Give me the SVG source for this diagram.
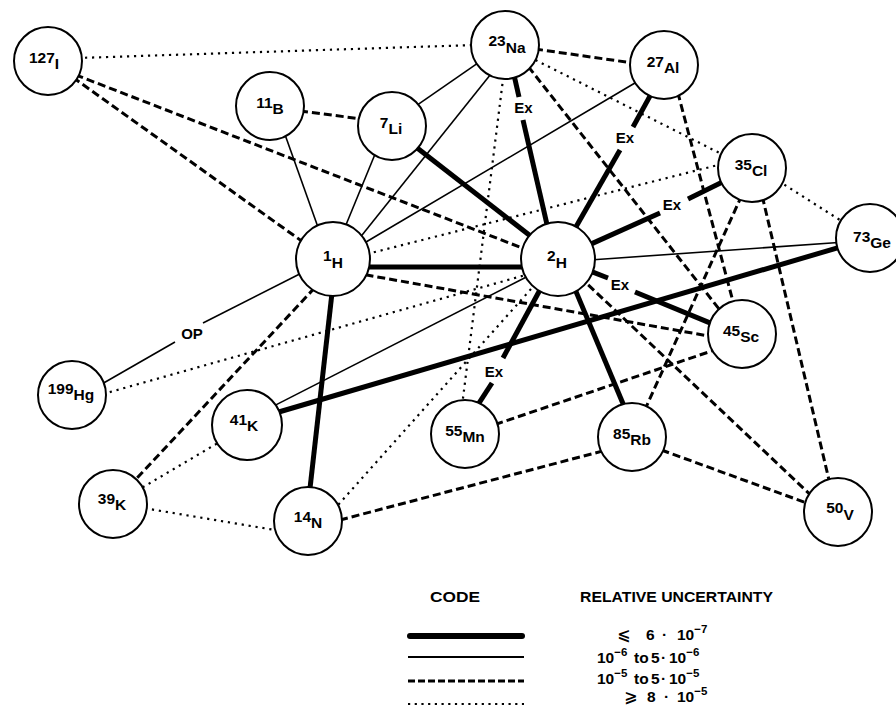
<svg xmlns="http://www.w3.org/2000/svg" width="896" height="708" viewBox="0 0 896 708">
<style>
.bg{fill:#fff}
.n circle{fill:#fff;stroke:#000;stroke-width:2}
.lbl{font-family:'Liberation Sans',Arial,sans-serif;font-weight:bold;font-size:15.5px;text-anchor:middle;fill:#000}
.ex{font-family:'Liberation Sans',Arial,sans-serif;font-weight:bold;font-size:15px;text-anchor:middle;fill:#000}
.e{stroke:#000;fill:none;stroke-linecap:butt}
.thick{stroke-width:5}
.thin{stroke-width:1.6}
.dash{stroke-width:3;stroke-dasharray:8 4}
.dot{stroke-width:2.2;stroke-dasharray:2.2 4.8}
.hd{font-family:'Liberation Sans',Arial,sans-serif;font-weight:bold;font-size:15.5px;fill:#000}
.val{font-family:'Liberation Sans',Arial,sans-serif;font-weight:bold;font-size:15.5px;fill:#000}
.rel{font-family:'DejaVu Sans',sans-serif;font-size:16px}
.sup{font-size:11.5px}
</style>
<rect class="bg" x="0" y="0" width="896" height="708"/>
<g id="connectors">
<!-- dotted -->
<line class="e dot" x1="78" y1="58" x2="475" y2="45"/>
<line class="e dot" x1="535.5" y1="60" x2="721.5" y2="154"/>
<line class="e dot" x1="503.3" y1="77" x2="462.4" y2="403"/>
<line class="e dot" x1="778.5" y1="181" x2="844" y2="222.6"/>
<line class="e dot" x1="531" y1="289" x2="338.6" y2="504.4"/>
<line class="e dot" x1="103" y1="394" x2="525.5" y2="275"/>
<line class="e dot" x1="367" y1="254" x2="722" y2="164"/>
<line class="e dot" x1="142.6" y1="487.4" x2="222.3" y2="440.4"/>
<line class="e dot" x1="145" y1="508.3" x2="277.8" y2="530.5"/>
<!-- dashed -->
<line class="e dash" x1="72.8" y1="77.3" x2="302.3" y2="241.5"/>
<line class="e dash" x1="75.5" y1="74.8" x2="525.8" y2="249.4"/>
<line class="e dash" x1="300" y1="111" x2="362" y2="119"/>
<line class="e dash" x1="535" y1="49" x2="633" y2="63"/>
<line class="e dash" x1="528.3" y1="66.6" x2="720.4" y2="310.7"/>
<line class="e dash" x1="677.8" y1="92.5" x2="733.3" y2="302.8"/>
<line class="e dash" x1="741.8" y1="195.3" x2="645.9" y2="407.5"/>
<line class="e dash" x1="762.3" y1="196.3" x2="829.4" y2="481.8"/>
<line class="e dash" x1="365.5" y1="274.8" x2="712" y2="336.6"/>
<line class="e dash" x1="588.2" y1="284.8" x2="811.3" y2="495.6"/>
<line class="e dash" x1="314.7" y1="287.8" x2="134.6" y2="480.7"/>
<line class="e dash" x1="340" y1="520" x2="603.5" y2="450.8"/>
<line class="e dash" x1="495.2" y1="424.5" x2="716.3" y2="349.4"/>
<line class="e dash" x1="661.4" y1="450" x2="807.8" y2="503.4"/>
<!-- thin -->
<line class="e thin" x1="284.6" y1="133.6" x2="318.1" y2="227.5"/>
<line class="e thin" x1="375.6" y1="152.7" x2="345.2" y2="226.7"/>
<line class="e thin" x1="417.1" y1="105.2" x2="479.2" y2="62.2"/>
<line class="e thin" x1="492.1" y1="72.5" x2="361.1" y2="236.2"/>
<line class="e thin" x1="636.2" y1="82.3" x2="365.6" y2="242.3"/>
<line class="e thin" x1="590" y1="260" x2="842" y2="242.2"/>
<line class="e thin" x1="525.4" y1="277.5" x2="275.9" y2="404.9"/>
<line class="e thin" x1="102.3" y1="383.7" x2="175" y2="342"/>
<line class="e thin" x1="203" y1="323" x2="301.6" y2="273"/>
<!-- thick -->
<line class="e thick" x1="414.3" y1="145.7" x2="530.8" y2="236.2"/>
<line class="e thick" x1="513.6" y1="73.2" x2="519" y2="97"/>
<line class="e thick" x1="523" y1="120" x2="547.5" y2="226.8"/>
<line class="e thick" x1="652" y1="92.4" x2="633" y2="127"/>
<line class="e thick" x1="620" y1="150" x2="575.6" y2="227.4"/>
<line class="e thick" x1="724.5" y1="180.9" x2="688" y2="199"/>
<line class="e thick" x1="660" y1="213" x2="588.5" y2="245.1"/>
<line class="e thick" x1="590.3" y1="271.2" x2="608" y2="278"/>
<line class="e thick" x1="635" y1="292" x2="711.7" y2="323.6"/>
<line class="e thick" x1="539.5" y1="290.7" x2="503" y2="358"/>
<line class="e thick" x1="492" y1="383" x2="478" y2="404.6"/>
<line class="e thick" x1="575.6" y1="290.6" x2="624.3" y2="406.8"/>
<line class="e thick" x1="275.4" y1="413" x2="841.8" y2="246.6"/>
<line class="e thick" x1="364" y1="267" x2="527" y2="267"/>
<line class="e thick" x1="332.1" y1="292" x2="309.7" y2="491"/>
<!-- edge labels -->
<text class="ex" x="523.5" y="113">Ex</text>
<text class="ex" x="625" y="143">Ex</text>
<text class="ex" x="672" y="210">Ex</text>
<text class="ex" x="620" y="290">Ex</text>
<text class="ex" x="494" y="377">Ex</text>
<text class="ex" x="192" y="339">OP</text>
</g>
<g id="n-127I" class="n"><circle cx="48" cy="61" r="34"/><text class="lbl" x="44" y="63">127<tspan dy="6">I</tspan></text></g>
<g id="n-11B" class="n"><circle cx="270" cy="106" r="34"/><text class="lbl" x="270" y="108">11<tspan dy="6">B</tspan></text></g>
<g id="n-7Li" class="n"><circle cx="392" cy="126" r="34"/><text class="lbl" x="391" y="128">7<tspan dy="6">Li</tspan></text></g>
<g id="n-23Na" class="n"><circle cx="505" cy="45" r="34"/><text class="lbl" x="507" y="46">23<tspan dy="7">Na</tspan></text></g>
<g id="n-27Al" class="n"><circle cx="664" cy="65" r="34"/><text class="lbl" x="663" y="67">27<tspan dy="6">Al</tspan></text></g>
<g id="n-35Cl" class="n"><circle cx="752" cy="168" r="34"/><text class="lbl" x="751" y="170">35<tspan dy="6">Cl</tspan></text></g>
<g id="n-73Ge" class="n"><circle cx="870" cy="238" r="34"/><text class="lbl" x="872" y="242">73<tspan dy="6">Ge</tspan></text></g>
<g id="n-1H" class="n"><circle cx="333" cy="259" r="37"/><text class="lbl" x="333" y="261">1<tspan dy="7">H</tspan></text></g>
<g id="n-2H" class="n"><circle cx="558" cy="259" r="37"/><text class="lbl" x="557" y="261">2<tspan dy="7">H</tspan></text></g>
<g id="n-199Hg" class="n"><circle cx="72" cy="395" r="34"/><text class="lbl" x="71" y="394">199<tspan dy="6">Hg</tspan></text></g>
<g id="n-41K" class="n"><circle cx="247" cy="425" r="35"/><text class="lbl" x="244" y="425">41<tspan dy="6">K</tspan></text></g>
<g id="n-39K" class="n"><circle cx="113" cy="504" r="34"/><text class="lbl" x="112" y="504">39<tspan dy="6">K</tspan></text></g>
<g id="n-14N" class="n"><circle cx="308" cy="521" r="34"/><text class="lbl" x="308" y="522">14<tspan dy="6">N</tspan></text></g>
<g id="n-55Mn" class="n"><circle cx="465" cy="434" r="34"/><text class="lbl" x="465" y="436">55<tspan dy="6">Mn</tspan></text></g>
<g id="n-85Rb" class="n"><circle cx="632" cy="437" r="34"/><text class="lbl" x="632" y="439">85<tspan dy="6">Rb</tspan></text></g>
<g id="n-45Sc" class="n"><circle cx="742" cy="334" r="34"/><text class="lbl" x="741" y="336">45<tspan dy="6">Sc</tspan></text></g>
<g id="n-50V" class="n"><circle cx="838" cy="512" r="34"/><text class="lbl" x="840" y="513">50<tspan dy="7">V</tspan></text></g>
<g id="legend">
<text class="hd" x="430" y="602" textLength="50" lengthAdjust="spacingAndGlyphs">CODE</text>
<text class="hd" x="580" y="602" textLength="193" lengthAdjust="spacingAndGlyphs">RELATIVE UNCERTAINTY</text>
<line x1="410" y1="636" x2="522" y2="636" stroke="#000" stroke-width="6" stroke-linecap="round"/>
<line x1="408" y1="657" x2="524" y2="657" stroke="#000" stroke-width="2"/>
<line x1="408" y1="681" x2="524" y2="681" stroke="#000" stroke-width="3" stroke-dasharray="7 3"/>
<line x1="408" y1="704" x2="524" y2="704" stroke="#000" stroke-width="2.2" stroke-dasharray="2.2 4.5"/>
<text class="val" y="640"><tspan class="rel" x="617">⩽</tspan><tspan x="646">6</tspan><tspan x="662">·</tspan><tspan x="677">10</tspan><tspan class="sup" dy="-7">−7</tspan></text>
<text class="val" y="663"><tspan x="597">10</tspan><tspan class="sup" dy="-7">−6</tspan><tspan x="634" dy="7">to</tspan><tspan x="651">5</tspan><tspan x="661">·</tspan><tspan x="669">10</tspan><tspan class="sup" dy="-7">−6</tspan></text>
<text class="val" y="684"><tspan x="597">10</tspan><tspan class="sup" dy="-7">−5</tspan><tspan x="634" dy="7">to</tspan><tspan x="651">5</tspan><tspan x="661">·</tspan><tspan x="669">10</tspan><tspan class="sup" dy="-7">−5</tspan></text>
<text class="val" y="702"><tspan class="rel" x="624">⩾</tspan><tspan x="647">8</tspan><tspan x="664">·</tspan><tspan x="677">10</tspan><tspan class="sup" dy="-7">−5</tspan></text>
</g>
</svg>
